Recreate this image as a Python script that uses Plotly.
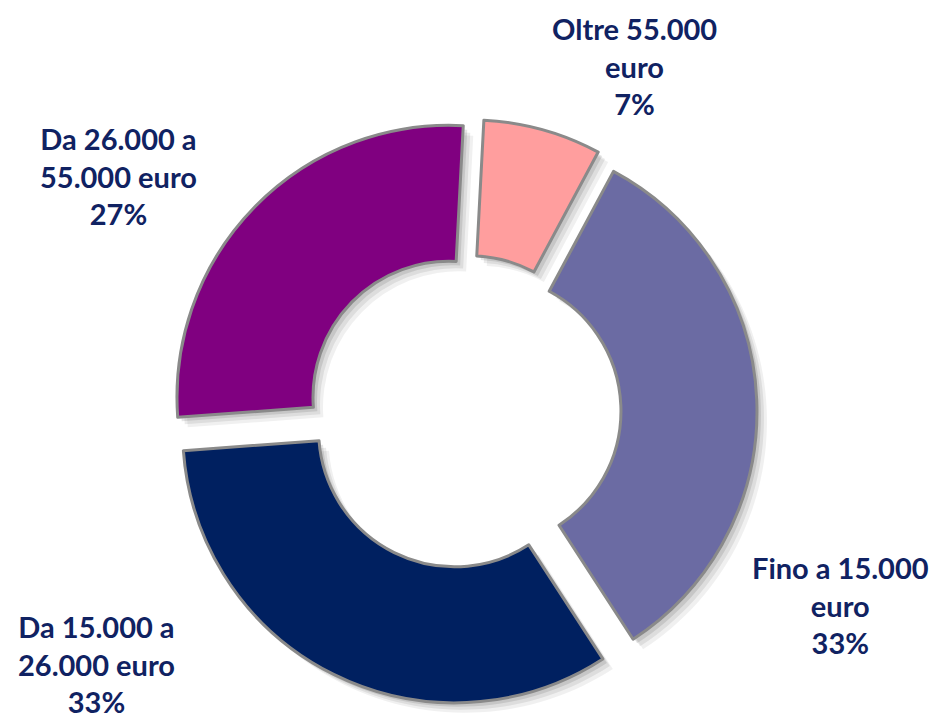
import plotly.graph_objects as go

# Data
labels = ["Oltre 55.000 euro", "Fino a 15.000 euro", "Da 15.000 a 26.000 euro", "Da 26.000 a 55.000 euro"]
label_lines = ["Oltre 55.000<br>euro", "Fino a 15.000<br>euro", "Da 15.000 a<br>26.000 euro", "Da 26.000 a<br>55.000 euro"]
values = [7, 33, 33, 27]
colors = ["#FF9E9E", "#6B6BA3", "#002060", "#800080"]

# label positions (paper coords)
label_x = [634 / 933, 840 / 933, 96 / 933, 118 / 933]
label_y = [1 - 66 / 721, 1 - 605 / 721, 1 - 664 / 721, 1 - 176 / 721]

W, H = 933, 721
cx, cy = 464, 412
half = 293
pull = 0.077
rotation = 3

def dom(dx=0, dy=0):
    return dict(x=[(cx - half + dx) / W, (cx + half + dx) / W],
                y=[1 - (cy + half + dy) / H, 1 - (cy - half + dy) / H])

fig = go.Figure()

# soft shadow layers
for (dx, dy, a) in [(10, 10, 0.06), (7, 7, 0.08), (4, 4, 0.10)]:
    fig.add_trace(go.Pie(
        labels=labels, values=values, hole=0.5, sort=False, direction="clockwise",
        rotation=rotation, pull=[pull] * len(values),
        marker=dict(colors=[f"rgba(0,0,0,{a})"] * len(values), line=dict(width=0)),
        textinfo="none", hoverinfo="skip", showlegend=False, domain=dom(dx, dy),
    ))

fig.add_trace(go.Pie(
    labels=labels, values=values, hole=0.5, sort=False, direction="clockwise",
    rotation=rotation, pull=[pull] * len(values),
    marker=dict(colors=colors, line=dict(color="#8a8a8a", width=3)),
    textinfo="none", showlegend=False, domain=dom(),
))

for txt, v, x, y in zip(label_lines, values, label_x, label_y):
    fig.add_annotation(
        text=f"{txt}<br>{v}%", x=x, y=y, xref="paper", yref="paper",
        xanchor="center", yanchor="middle", showarrow=False, align="center",
        font=dict(family="Lato", size=29, color="#102262", weight="bold"),
    )

fig.update_layout(
    width=W, height=H, margin=dict(l=0, r=0, t=0, b=0),
    paper_bgcolor="white", plot_bgcolor="white", showlegend=False,
)

fig.write_html("out.html", config={"displayModeBar": False},
               post_script="document.body.style.margin='0';document.body.style.overflow='hidden';")
